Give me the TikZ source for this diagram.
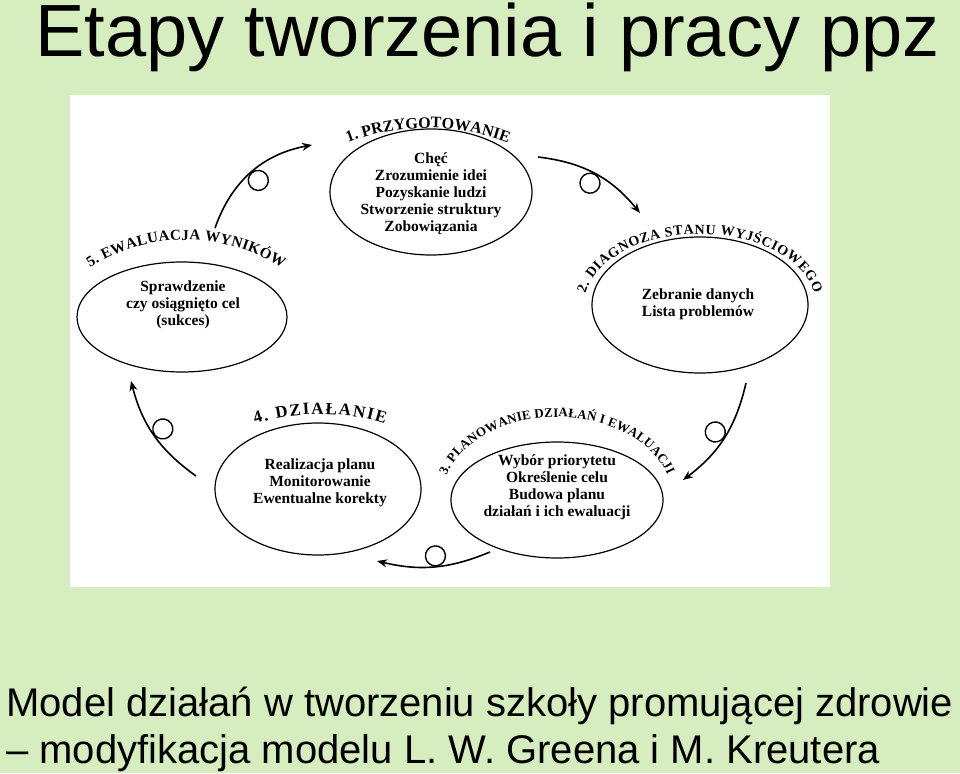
\documentclass[tikz,border=0pt]{standalone}
\usepackage{fontspec}
\setmainfont{Liberation Serif}
\newfontfamily\headfont{Liberation Sans}
\usetikzlibrary{arrows.meta,decorations.text,shapes.geometric}
\definecolor{slidegreen}{HTML}{D6EDBF}

\tikzset{
  stage/.style={ellipse, draw, line width=1.2pt, inner sep=0pt},
  stagetext/.style={align=center, font=\bfseries\fontsize{15.5}{17}\selectfont},
  flow/.style={line width=1.6pt, -{Stealth[length=10pt,width=8pt]}, bend left=#1},
  loopc/.style={circle, draw, line width=1.4pt, minimum size=20pt, inner sep=0pt,
    sloped, allow upside down, anchor=north},
  arclabel/.style 2 args={decorate, decoration={text along path,
    text align=fit to path, text={|\bfseries\fontsize{#1}{#1}\selectfont|#2}}}
}

\begin{document}
\begin{tikzpicture}[x=1pt,y=1pt]
	\useasboundingbox (0,0) rectangle (960,-773);
	\fill[slidegreen] (0,0) rectangle (960,-773);
	\fill[white] (70,-95) rectangle (830,-587);

	\node[font=\headfont\fontsize{74}{80}\selectfont, anchor=base west, inner sep=0pt]
	  (title) at (35,-57) {Etapy tworzenia i pracy ppz};

	% stages
	\node[stage, minimum width=202, minimum height=126] (e1) at (431,-192) {};
	\node[stage, minimum width=216, minimum height=136] (e2) at (700,-305) {};
	\node[stage, minimum width=212, minimum height=116] (e3) at (557,-500) {};
	\node[stage, minimum width=206, minimum height=132] (e4) at (318,-489) {};
	\node[stage, minimum width=210, minimum height=110] (e5) at (182,-317) {};

	\node[stagetext] (t1) at (431,-194) {Chęć\\Zrozumienie idei\\Pozyskanie ludzi\\Stworzenie struktury\\Zobowiązania};
	\node[stagetext] (t2) at (698,-304) {Zebranie danych\\Lista problemów};
	\node[stagetext] (t3) at (557,-487) {Wybór priorytetu\\Określenie celu\\Budowa planu\\działań i ich ewaluacji};
	\node[stagetext] (t4) at (320,-483) {Realizacja planu\\Monitorowanie\\Ewentualne korekty};
	\node[stagetext] (t5) at (183,-305) {Sprawdzenie\\czy osiągnięto cel\\(sukces)};

	% curved titles
	\path[arclabel={16}{1. PRZYGOTOWANIE}, shift={(428,-356)}]
	  (110.6:228) arc[start angle=110.6, end angle=69.4, radius=228];
	\path[arclabel={14}{2. DIAGNOZA STANU WYJŚCIOWEGO}, shift={(700,-305)}]
	  (170.5:116 and 71) arc[start angle=170.5, end angle=9.5, x radius=116, y radius=71];
	\path[arclabel={13}{3. PLANOWANIE DZIAŁAŃ I EWALUACJI}, shift={(557,-500)}]
	  (162.5:116 and 83) arc[start angle=162.5, end angle=17.5, x radius=116, y radius=83];
	\path[arclabel={17}{4. DZIAŁANIE}, shift={(320,-630)}]
	  (107.5:216) arc[start angle=107.5, end angle=72.5, radius=216];
	\path[arclabel={15}{5. EWALUACJA WYNIKÓW}, shift={(186,-418.6)}]
	  (122.5:178.6) arc[start angle=122.5, end angle=57.5, radius=178.6];

	% arrows between stages
	\coordinate (a1s) at (215,-228);
	\coordinate (a1e) at (312,-145);
	\coordinate (a2s) at (538,-157);
	\coordinate (a2e) at (640,-213);
	\coordinate (a3s) at (746,-383);
	\coordinate (a3e) at (683,-480);
	\coordinate (a4s) at (490,-552);
	\coordinate (a4e) at (377,-561);
	\coordinate (a5s) at (196,-476);
	\coordinate (a5e) at (131,-381);

	\draw[flow=30] (a1s) to node[loopc, pos=.5] (l1) {} (a1e);
	\draw[flow=22] (a2s) to node[loopc, pos=.5] (l2) {} (a2e);
	\draw[flow=20] (a3s) to node[loopc, pos=.5] (l3) {} (a3e);
	\draw[flow=18] (a4s) to node[loopc, pos=.48] (l4) {} (a4e);
	\draw[flow=20] (a5s) to node[loopc, pos=.5] (l5) {} (a5e);

	\node[font=\headfont\fontsize{40}{47}\selectfont, anchor=base west, align=left, inner sep=0pt]
	  (caption) at (6,-763) {Model działań w tworzeniu szkoły promującej zdrowie\\– modyfikacja modelu L. W. Greena i M. Kreutera};
\end{tikzpicture}
\end{document}
